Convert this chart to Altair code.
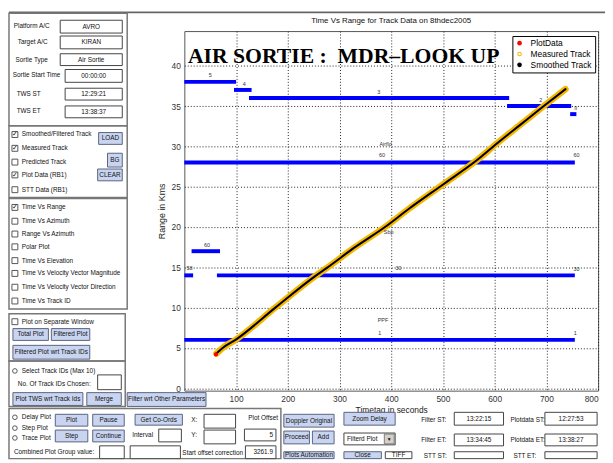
import altair as alt
import pandas as pd

# ---------------- chart values ----------------
x_ticks = [100, 200, 300, 400, 500, 600, 700, 800]
y_ticks = [0, 5, 10, 15, 20, 25, 30, 35, 40]

track_time = [62, 74, 99, 176, 255, 275, 330, 388, 433, 503, 566, 605, 650, 695, 737]
track_range = [4.3, 5.0, 6.0, 10.0, 14.0, 14.9, 17.5, 20.0, 22.2, 25.4, 28.3, 30.4, 32.7, 35.0, 37.1]
plot_time = [61]
plot_range = [4.2]

seg_range = [38, 37, 36, 35, 34, 28, 17, 14, 14, 6]
seg_start = [0, 96, 125, 624, 746, 0, 14, 0, 63, 0]
seg_end = [100, 130, 628, 748, 758, 755, 69, 17, 755, 755]

label_text = ["5", "4", "3", "2", "II", "Airfld", "60", "60", "60", "58", "Sbp", "30", "30", "PPF", "1", "1"]
label_time = [50, 116, 376, 689, 757, 389, 382, 758, 44, 10, 395, 414, 758, 384, 378, 756]
label_range = [38.8, 37.7, 36.8, 35.7, 34.8, 30.3, 28.9, 28.9, 17.8, 14.9, 19.4, 14.9, 14.8, 8.4, 6.85, 6.85]

banner_text = ["AIR SORTIE :\u00a0\u00a0MDR\u2013LOOK UP"]
banner_time = [308]
banner_range = [40.4]

series_names = ["PlotData", "Measured Track", "Smoothed Track"]
series_colors = ["#ff0000", "#f5b800", "#000000"]

# ---------------- layout ----------------
W, H = 420, 365
X0, Y0 = 186, 28
FONT = "Liberation Sans, Arial, sans-serif"
GUI_SIZE = 6.5

xsc = alt.Scale(domain=[0, 800], nice=False, zero=False)
ysc = alt.Scale(domain=[-0.3, 44.3], nice=False, zero=False)

x_axis = alt.Axis(values=x_ticks, title="Timetag in seconds", grid=True, gridDash=[1, 2],
                  gridColor="#222", gridOpacity=1, domain=False, ticks=False,
                  labelFont=FONT, labelFontSize=8.5, labelColor="#333", labelPadding=4,
                  titleFont=FONT, titleFontSize=8.5, titleFontWeight="normal",
                  titleColor="#222", titlePadding=3)
y_axis = alt.Axis(values=y_ticks, title="Range in Kms", grid=True, gridDash=[1, 2],
                  gridColor="#222", gridOpacity=1, domain=False, ticks=False,
                  labelFont=FONT, labelFontSize=8.5, labelColor="#333", labelPadding=4,
                  titleFont=FONT, titleFontSize=9, titleFontWeight="normal",
                  titleColor="#222", titlePadding=5)

seg_df = pd.DataFrame({"r": seg_range, "t": seg_start, "t2": seg_end})
track_df = pd.DataFrame({"t": track_time, "r": track_range})
lab_df = pd.DataFrame({"t": label_time, "r": label_range, "txt": label_text})
ban_df = pd.DataFrame({"t": banner_time, "r": banner_range, "txt": banner_text})
pts_df = pd.DataFrame({"t": plot_time, "r": plot_range, "series": series_names[0]})

X = lambda f: alt.X(f, scale=xsc, axis=x_axis)
Y = lambda f: alt.Y(f, scale=ysc, axis=y_axis)

rules = alt.Chart(seg_df).mark_rule(color="#0000ff", strokeWidth=4).encode(
    x=X("t:Q"), x2="t2:Q", y=Y("r:Q"))
band = alt.Chart(track_df).mark_line(color="#f5b800", strokeWidth=6.5, strokeCap="round",
                                     interpolate="monotone").encode(
    x=X("t:Q"), y=Y("r:Q"))
smooth = alt.Chart(track_df).mark_line(color="#000000", strokeWidth=2, strokeCap="round",
                                       interpolate="monotone").encode(
    x=X("t:Q"), y=Y("r:Q"))
points = alt.Chart(pts_df).mark_point(shape="circle", filled=False, strokeWidth=1.2, opacity=1, size=10).encode(
    x=X("t:Q"), y=Y("r:Q"),
    color=alt.Color("series:N", scale=alt.Scale(domain=series_names, range=series_colors),
                    legend=alt.Legend(title=None, orient="none", legendX=333, legendY=5,
                                      fillColor="white", strokeColor="#000", padding=3,
                                      labelFont=FONT, labelFontSize=8.5, labelColor="#000",
                                      rowPadding=2, symbolType="circle", labelOffset=7,
                                      symbolSize=13, symbolStrokeWidth=1.1)),
    fill=alt.Fill("series:N", scale=alt.Scale(domain=series_names,
                                              range=["#ff0000", "transparent", "#000000"]),
                  legend=alt.Legend(title=None)),
)
labels = alt.Chart(lab_df).mark_text(font=FONT, fontSize=5.5, color="#333", baseline="middle").encode(
    x=X("t:Q"), y=Y("r:Q"), text="txt:N")
banner = alt.Chart(ban_df).mark_text(font="Liberation Serif, Times New Roman, serif", fontSize=22,
                                     fontWeight="bold", color="#000", baseline="alphabetic").encode(
    x=X("t:Q"), y=Y("r:Q"), text="txt:N")

main = alt.layer(rules, band, smooth, points, labels, banner)

# ---------------- surrounding application window (screen layout) ----------------
BTN_F, BTN_S = "#c9d5f0", "#5a6480"
rects = []  # x1, y1, x2, y2, fill, stroke, sw
texts = []  # x, y, text, align, size

rects.append((8, 8, 613, 10, "#666666", "transparent", 0))
for f in [(8, 10, 128, 124), (8, 124, 128, 197), (8, 198, 128, 310), (8, 315, 126, 363),
          (8, 363, 126, 409), (8, 411, 284, 462)]:
    rects.append((*f, "transparent", "#777777", 1.5))

inputs = [(60, 17, 123, 30, "AVRO", "center"), (60, 33, 123, 46, "KIRAN", "center"),
          (60, 51, 123, 63, "Air Sortie", "center"), (65, 67, 123, 80, "00:00:00", "center"),
          (65, 86, 123, 98, "12:29:21", "center"), (65, 104, 123, 116, "13:38:37", "center"),
          (98, 377, 122, 392, "", "center"), (160, 432, 183, 445, "", "center"),
          (100, 449, 125, 462, "", "center"), (131, 449, 182, 462, "", "center"),
          (206, 417, 238, 431, "", "center"), (206, 433, 238, 447, "", "center"),
          (247, 432, 279, 444, "5", "right"), (248, 449, 279, 462, "3261.9", "right"),
          (348, 436, 400, 448, "Filterd Plot", "left"), (390, 455, 417, 462, "TIFF", "center"),
          (460, 415, 510, 428, "13:22:15", "center"), (552, 415, 605, 428, "12:27:53", "center"),
          (460, 437, 510, 449, "13:34:45", "center"), (552, 437, 605, 449, "13:38:27", "center"),
          (460, 455, 510, 462, "", "center"), (552, 455, 605, 462, "", "center")]
for x1, y1, x2, y2, t, a in inputs:
    rects.append((x1, y1, x2, y2, "white", "#444444", 1))
    if t:
        tx = (x1 + x2) / 2 if a == "center" else (x2 - 3 if a == "right" else x1 + 3)
        texts.append((tx, (y1 + y2) / 2, t, a, GUI_SIZE))
rects.append((389, 437, 399, 447, "#d4d0c8", "#666666", 0.8))
texts.append((394, 442, "\u25BC", "center", 5))

buttons = [(99, 131, 123, 143, "LOAD"), (108, 152, 123, 166, "BG"), (98, 168, 123, 180, "CLEAR"),
           (12, 330, 48, 342, "Total Plot"), (51, 330, 90, 342, "Filtered Plot"),
           (12, 347, 90, 361, "Filtered Plot wrt Track IDs"),
           (12, 395, 83, 408, "Plot TWS wrt Track Ids"), (87, 395, 122, 408, "Merge"),
           (128, 395, 208, 409, "Filter wrt Other Parameters"),
           (55, 417, 88, 429, "Plot"), (93, 417, 125, 429, "Pause"), (55, 433, 88, 445, "Step"),
           (93, 433, 125, 445, "Continue"), (136, 417, 184, 428, "Get Co-Ords"),
           (287, 417, 338, 430, "Doppler Original"), (348, 415, 400, 428, "Zoom Delay"),
           (287, 434, 313, 447, "Proceed"), (316, 434, 338, 447, "Add"),
           (287, 455, 338, 462, "Plots Automation"), (348, 455, 386, 462, "Close")]
for x1, y1, x2, y2, t in buttons:
    rects.append((x1, y1, x2, y2, BTN_F, BTN_S, 1))
    texts.append(((x1 + x2) / 2, (y1 + y2) / 2, t, "center", GUI_SIZE))

checks = [(133, "Smoothed/Filtered Track", True), (147, "Measured Track", True),
          (161, "Predicted Track", False), (174, "Plot Data (RB1)", True),
          (189, "STT Data (RB1)", False), (207, "Time Vs Range", True),
          (221, "Time Vs Azimuth", False), (234, "Range Vs Azimuth", False),
          (247, "Polar Plot", False), (261, "Time Vs Elevation", False),
          (274, "Time Vs Velocity Vector Magnitude", False),
          (288, "Time Vs Velocity Vector Direction", False),
          (302, "Time Vs Track ID", False), (323, "Plot on Separate Window", False)]
for y, t, c in checks:
    rects.append((11, y - 3, 17, y + 3, "white", "#555555", 1))
    texts.append((21, y, t, "left", GUI_SIZE))
    if c:
        texts.append((14, y, "\u2713", "center", 7))

radios = [(373, "Select Track IDs (Max 10)"), (420, "Delay Plot"), (431, "Step Plot"), (441, "Trace Plot")]
radio_df = pd.DataFrame({"x": [14] * len(radios), "y": [r[0] for r in radios]})
for y, t in radios:
    texts.append((21, y, t, "left", GUI_SIZE))

plain = [("Platform A/C", 31, 23, "center"), ("Target A/C", 32, 39, "center"),
         ("Sortie Type", 31, 57, "center"), ("Sortie Start Time", 36, 73, "center"),
         ("TWS ST", 28, 92, "center"), ("TWS ET", 28, 109, "center"),
         ("Plot Offset", 266, 421, "center"),
         ("No. Of Track IDs Chosen:", 17, 386, "left"), ("Combined Plot Group value:", 13, 455, "left"),
         ("Interval", 133, 438, "left"), ("X:", 193, 423, "left"), ("Y:", 193, 438, "left"),
         ("Start offset correction", 184, 456, "left"), ("STT ST:", 429, 459, "left"),
         ("Plotdata ST:", 517, 423, "left"), ("Plotdata ET:", 517, 443, "left"),
         ("STT ET:", 520, 459, "left"), ("Filter ST:", 452, 423, "right"),
         ("Filter ET:", 452, 443, "right")]
for t, x, y, a in plain:
    texts.append((x, y, t, a, GUI_SIZE))
texts.append((396, 18, "Time Vs Range for Track Data on 8thdec2005", "center", 8))

gx = alt.Scale(domain=[X0, X0 + W], nice=False, zero=False)
gy = alt.Scale(domain=[Y0, Y0 + H], nice=False, zero=False, reverse=True)

rect_df = pd.DataFrame(rects, columns=["x1", "y1", "x2", "y2", "fill", "stroke", "sw"])
text_df = pd.DataFrame(texts, columns=["x", "y", "text", "align", "size"])

gui_rects = alt.Chart(rect_df).mark_rect().encode(
    x=alt.X("x1:Q", scale=gx, axis=None), x2="x2:Q",
    y=alt.Y("y1:Q", scale=gy, axis=None), y2="y2:Q",
    fill=alt.Fill("fill:N", scale=None), stroke=alt.Stroke("stroke:N", scale=None),
    strokeWidth=alt.StrokeWidth("sw:Q", scale=None))
gui_radio = alt.Chart(radio_df).mark_point(shape="circle", filled=True, fill="white", stroke="#555",
                                           strokeWidth=1, size=22, opacity=1).encode(
    x=alt.X("x:Q", scale=gx, axis=None), y=alt.Y("y:Q", scale=gy, axis=None))
gui_texts = []
for a in ["left", "center", "right"]:
    sub = text_df[text_df["align"] == a]
    gui_texts.append(alt.Chart(sub).mark_text(align=a, baseline="middle", font=FONT,
                                              color="#111").encode(
        x=alt.X("x:Q", scale=gx, axis=None), y=alt.Y("y:Q", scale=gy, axis=None),
        text="text:N", size=alt.Size("size:Q", scale=None)))

gui = alt.layer(gui_rects, gui_radio, *gui_texts)

chart = alt.layer(main, gui).resolve_scale(x="independent", y="independent").properties(
    width=W, height=H, padding=0, background="white"
).configure_view(stroke="#555", strokeWidth=1)

chart.save("out.html", embed_options={"renderer": "svg", "actions": False})
